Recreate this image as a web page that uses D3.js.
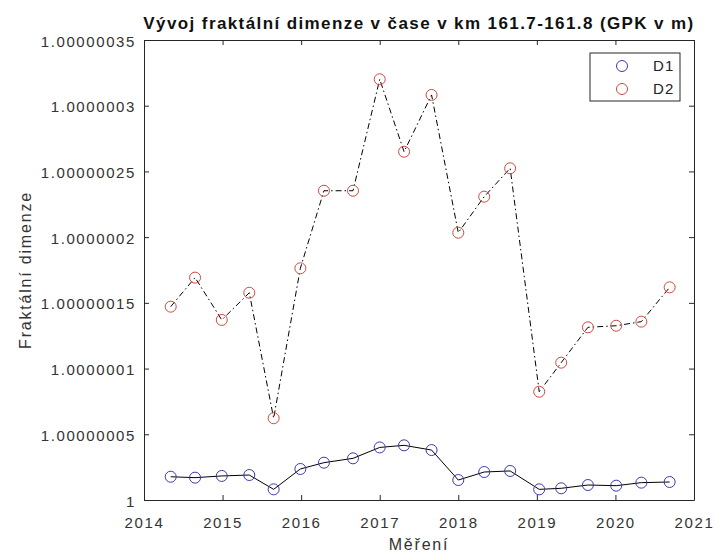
<!DOCTYPE html>
<html>
<head>
<meta charset="utf-8">
<script src="https://cdn.jsdelivr.net/npm/d3@7"></script>
<style>
  body { margin: 0; background: #fff; }
  svg { font-family: "Liberation Sans", Arial, sans-serif; }
</style>
</head>
<body>
<div id="chart"></div>
<script>
// measurement dates (decimal years)
const dates = [2014.34, 2014.65, 2014.99, 2015.34, 2015.65, 2015.99, 2016.29, 2016.66,
  2017.00, 2017.31, 2017.66, 2018.00, 2018.33, 2018.66, 2019.03, 2019.31,
  2019.65, 2020.01, 2020.33, 2020.69];

const d1 = [1.0000000177, 1.0000000170, 1.0000000183, 1.0000000190, 1.0000000081,
  1.0000000236, 1.0000000284, 1.0000000317, 1.0000000400, 1.0000000416,
  1.0000000380, 1.0000000152, 1.0000000213, 1.0000000221, 1.0000000081,
  1.0000000089, 1.0000000114, 1.0000000109, 1.0000000132, 1.0000000137];

const d2 = [1.0000001471, 1.0000001692, 1.0000001370, 1.0000001577, 1.0000000622,
  1.0000001763, 1.0000002353, 1.0000002353, 1.0000003201, 1.0000002650,
  1.0000003082, 1.0000002034, 1.0000002308, 1.0000002524, 1.0000000824,
  1.0000001045, 1.0000001314, 1.0000001326, 1.0000001357, 1.0000001618];

const xTicks = [2014, 2015, 2016, 2017, 2018, 2019, 2020, 2021];
const yTicks = [1, 1.00000005, 1.0000001, 1.00000015, 1.0000002, 1.00000025, 1.0000003, 1.00000035];
const yTickLabels = ["1", "1.00000005", "1.0000001", "1.00000015", "1.0000002", "1.00000025", "1.0000003", "1.00000035"];

const seriesNames = ["D1", "D2"];
const seriesColors = ["#3b3bb0", "#cc4a42"];

const W = 715, H = 559;
const margin = { left: 144, right: 21, top: 40, bottom: 59 };
const width = W - margin.left - margin.right;
const height = H - margin.top - margin.bottom;
const axisColor = "#262626";

const svg = d3.select("#chart").append("svg")
  .attr("width", W).attr("height", H);

const g = svg.append("g").attr("transform", `translate(${margin.left},${margin.top})`);

const x = d3.scaleLinear().domain([2014, 2021]).range([0, width]);
const y = d3.scaleLinear().domain([1, 1.00000035]).range([height, 0]);

// lines
const line = vals => d3.line()
  .x((d, i) => x(dates[i]))
  .y(d => y(d))(vals);

g.append("path").attr("d", line(d1))
  .attr("fill", "none").attr("stroke", "#000").attr("stroke-width", 1);

g.append("path").attr("d", line(d2))
  .attr("fill", "none").attr("stroke", "#000").attr("stroke-width", 1)
  .attr("stroke-dasharray", "6,3,1.5,3");

// markers
[d1, d2].forEach((vals, k) => {
  g.selectAll(".m" + k).data(vals).enter().append("circle")
    .attr("cx", (d, i) => x(dates[i]))
    .attr("cy", d => y(d))
    .attr("r", 5.5)
    .attr("fill", "none")
    .attr("stroke", seriesColors[k])
    .attr("stroke-width", 1);
});

// axes (box with mirrored ticks)
const tickLen = 5;
const xAxis = g.append("g").attr("transform", `translate(0,${height})`)
  .call(d3.axisBottom(x).tickValues(xTicks).tickFormat(d3.format("d")).tickSize(-tickLen).tickSizeOuter(0));
const xAxisTop = g.append("g")
  .call(d3.axisTop(x).tickValues(xTicks).tickFormat("").tickSize(-tickLen).tickSizeOuter(0));
const yAxis = g.append("g")
  .call(d3.axisLeft(y).tickValues(yTicks).tickFormat((d, i) => yTickLabels[i]).tickSize(-tickLen).tickSizeOuter(0));
const yAxisRight = g.append("g").attr("transform", `translate(${width},0)`)
  .call(d3.axisRight(y).tickValues(yTicks).tickFormat("").tickSize(-tickLen).tickSizeOuter(0));

[xAxis, xAxisTop, yAxis, yAxisRight].forEach(a => {
  a.selectAll("path.domain").attr("stroke", axisColor).attr("stroke-width", 1);
  a.selectAll("line").attr("stroke", axisColor).attr("stroke-width", 1);
});

xAxis.selectAll("text")
  .attr("y", 17).attr("dy", "0.71em")
  .style("font-size", "15px").style("letter-spacing", "1.6px")
  .attr("fill", "#333");
yAxis.selectAll("text")
  .attr("x", -8).attr("dy", "0.4em")
  .style("font-size", "15px").style("letter-spacing", "1.6px")
  .attr("fill", "#333");

// title
svg.append("text")
  .attr("x", margin.left + width / 2).attr("y", 29)
  .attr("text-anchor", "middle")
  .style("font-size", "17px").style("font-weight", "bold").style("letter-spacing", "1.4px")
  .attr("fill", "#111")
  .text("Vývoj fraktální dimenze v čase v km 161.7-161.8 (GPK v m)");

// axis labels
svg.append("text")
  .attr("x", margin.left + width / 2).attr("y", 550)
  .attr("text-anchor", "middle")
  .style("font-size", "16px").style("letter-spacing", "1.8px")
  .attr("fill", "#333")
  .text("Měření");

svg.append("text")
  .attr("transform", `translate(31,${margin.top + height / 2}) rotate(-90)`)
  .attr("text-anchor", "middle")
  .style("font-size", "16px").style("letter-spacing", "1.8px")
  .attr("fill", "#333")
  .text("Fraktální dimenze");

// legend
const legend = svg.append("g").attr("transform", "translate(590,53)");
legend.append("rect")
  .attr("width", 90).attr("height", 48)
  .attr("fill", "#fff").attr("stroke", axisColor).attr("stroke-width", 1);
seriesNames.forEach((name, k) => {
  const ly = 13 + k * 23;
  legend.append("circle")
    .attr("cx", 32).attr("cy", ly).attr("r", 5.5)
    .attr("fill", "none").attr("stroke", seriesColors[k]).attr("stroke-width", 1);
  legend.append("text")
    .attr("x", 63).attr("y", ly).attr("dy", "0.36em")
    .style("font-size", "15px").style("letter-spacing", "1.2px")
    .attr("fill", "#222")
    .text(name);
});
</script>
</body>
</html>
